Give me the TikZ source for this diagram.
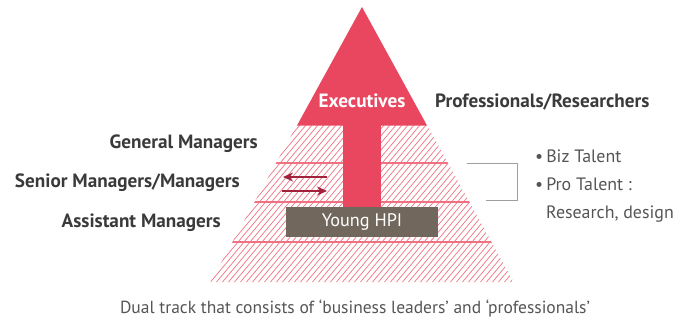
\documentclass[tikz,border=0pt]{standalone}
\usepackage{fontspec}
\setmainfont{PT Sans}
\usetikzlibrary{arrows.meta,positioning}
\definecolor{hpired}{HTML}{E8475F}
\definecolor{hatchred}{HTML}{F07282}
\definecolor{darkred}{HTML}{A3213A}
\definecolor{boxbrown}{HTML}{71675C}
\definecolor{labelgray}{HTML}{3A3A3A}
\definecolor{notegray}{HTML}{555555}

\begin{document}
\begin{tikzpicture}[x=1pt, y=-1pt,
  level/.style={font=\bfseries\fontsize{19.2}{22}\selectfont, text=labelgray, inner sep=0pt},
  note/.style={font=\fontsize{17.9}{21}\selectfont, text=notegray, inner sep=0pt, anchor=base west},
  hatch/.style={hatchred, line width=0.7pt},
  divider/.style={hatchred, line width=1.2pt},
  swap/.style={darkred, line width=1.4pt, -{Stealth[length=10pt, width=9pt]}},
  bracket/.style={gray!75, line width=0.9pt}
]
  \useasboundingbox (0,0) rectangle (681,324);

  % Hatched lower part of the pyramid
  \begin{scope}
    \clip (297,125) -- (427,125) -- (513.5,282) -- (210.5,282) -- cycle;
    \foreach \x in {70,76,...,520}
      \draw[hatch] (\x,285) -- ++(134,-160);
    \foreach \y in {163,202,242}
      \draw[divider] (200,\y) -- (520,\y);
  \end{scope}

  % Top of the pyramid and the arrow shaft
  \fill[hpired] (362,7) -- (427,125.5) -- (297,125.5) -- cycle;
  \fill[hpired] (343,124) rectangle (381,208);

  % Young HPI box
  \node[fill=boxbrown, text=white, minimum width=152pt, minimum height=30pt,
        inner sep=0pt, font=\fontsize{18.2}{20}\selectfont] (young) at (362,222) {Young HPI};

  % Arrows between the tracks
  \coordinate (swapR1) at (327,177);
  \coordinate (swapL1) at (283,177);
  \coordinate (swapL2) at (282,191);
  \coordinate (swapR2) at (327,191);
  \draw[swap] (swapR1) -- (swapL1);
  \draw[swap] (swapL2) -- (swapR2);

  % Levels
  \node[level, text=white, anchor=base] (exec) at (362,107) {Executives};
  \node[level, anchor=base west] (pro) at (435,107) {Professionals/Researchers};
  \node[level, anchor=base east] (gm) at (258,148) {General Managers};
  \node[level, anchor=base east] (sm) at (240,187) {Senior Managers/Managers};
  \node[level, anchor=base east] (am) at (221,227) {Assistant Managers};

  % Bracket and talent notes
  \coordinate (brA) at (467,163);
  \coordinate (brB) at (517,163);
  \coordinate (brC) at (517,200);
  \coordinate (brD) at (486,200);
  \draw[bracket] (brA) -- (brB) -- (brC) -- (brD);
  \node[note] (biz) at (535,162) {\textbullet\,Biz Talent};
  \node[note] (protal) at (535,190) {\textbullet\,Pro Talent :};
  \node[note] (research) at (546,218) {Research, design};

  % Caption
  \node[font=\fontsize{17.5}{20}\selectfont, text=notegray, inner sep=0pt, anchor=base] (caption)
    at (355,313) {Dual track that consists of ‘business leaders’ and ‘professionals’};
\end{tikzpicture}
\end{document}
